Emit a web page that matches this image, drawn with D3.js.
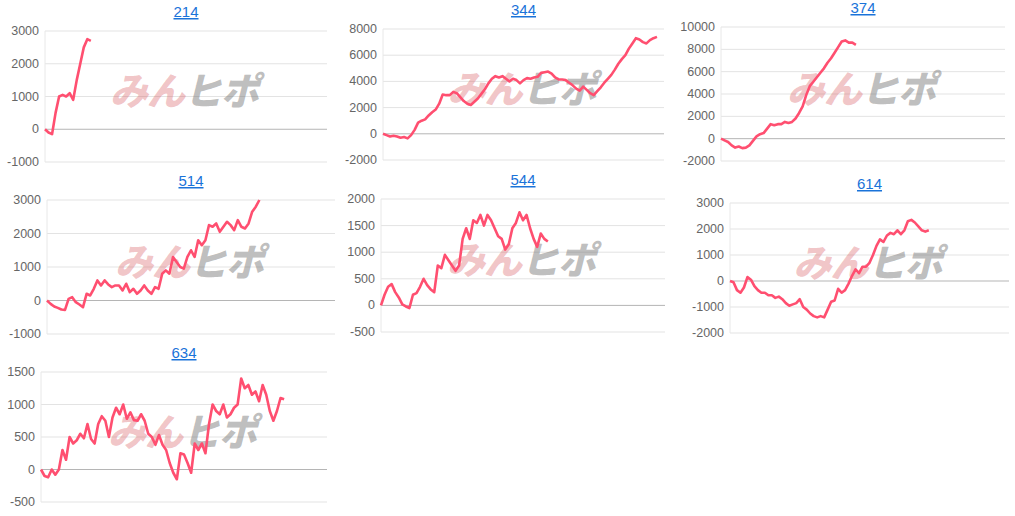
<!DOCTYPE html>
<html>
<head>
<meta charset="utf-8">
<script src="https://cdn.jsdelivr.net/npm/d3@7"></script>
<style>
  body { margin: 0; background: #fff; font-family: Arial, "Liberation Sans", sans-serif; }
  svg { display: block; }
</style>
</head>
<body>
<svg id="chart" width="1015" height="516"></svg>
<script>
// chart values
const titles = ['214', '344', '374', '514', '544', '614', '634'];

const s214 = [0, -100, -150, 500, 1000, 1050, 1000, 1100, 900, 1500, 2000, 2500, 2750, 2700];
const s344 = [0, -100, -200, -150, -200, -300, -250, -350, -100, 300, 850, 1000, 1100, 1400, 1650, 1850,
  2300, 3000, 2950, 2950, 3200, 3100, 2800, 2500, 2300, 2200, 2450, 2700, 3050, 3400, 3850, 4200, 4400,
  4300, 4400, 4200, 4000, 4200, 4100, 3850, 4100, 4250, 4200, 4300, 4350, 4650, 4700, 4750, 4600, 4300,
  4150, 4150, 4100, 3900, 3700, 3450, 3300, 3600, 3350, 3100, 2950, 3250, 3550, 3900, 4200, 4500, 4900,
  5350, 5700, 6000, 6500, 6900, 7300, 7200, 7000, 6900, 7150, 7300, 7400];
const s374 = [0, -150, -300, -600, -800, -700, -850, -800, -600, -200, 200, 400, 500, 900, 1300, 1200,
  1300, 1300, 1500, 1400, 1500, 1800, 2300, 2900, 3900, 4700, 5100, 5500, 5900, 6300, 6800, 7200, 7700,
  8200, 8700, 8800, 8600, 8600, 8400];
const s514 = [0, -100, -180, -220, -270, -280, 50, 100, -50, -120, -200, 200, 150, 350, 600, 450, 600,
  480, 400, 450, 450, 300, 500, 250, 350, 200, 300, 450, 300, 200, 400, 350, 800, 900, 800, 1300, 1150,
  1000, 950, 1300, 1500, 1300, 1800, 1650, 1800, 2250, 2200, 2300, 2050, 2200, 2350, 2250, 2100, 2400,
  2200, 2150, 2300, 2650, 2800, 3000];
const s544 = [0, 200, 350, 400, 250, 150, 20, -20, -50, 200, 230, 350, 500, 380, 300, 250, 750, 700, 950,
  850, 750, 650, 750, 1250, 1450, 1250, 1600, 1550, 1700, 1500, 1700, 1600, 1450, 1300, 1250, 1050, 1150,
  1450, 1550, 1750, 1600, 1700, 1450, 1250, 1100, 1350, 1250, 1200];
const s614 = [0, -50, -350, -450, -250, 150, 50, -200, -350, -450, -450, -550, -550, -650, -600, -700,
  -850, -950, -900, -850, -700, -1000, -1100, -1250, -1350, -1400, -1350, -1400, -1100, -800, -750, -300,
  -450, -350, -100, 200, 450, 300, 550, 550, 700, 1000, 1350, 1600, 1500, 1750, 1850, 1800, 1950, 1800,
  1950, 2300, 2350, 2250, 2100, 1950, 1900, 1950];
const s634 = [0, -100, -120, 0, -80, 0, 300, 150, 500, 400, 450, 550, 480, 700, 470, 400, 700, 820, 750,
  500, 800, 950, 850, 1000, 780, 880, 760, 750, 850, 750, 550, 500, 380, 530, 380, 300, 100, -50, -150,
  250, 230, 100, -50, 400, 300, 400, 250, 700, 1000, 900, 850, 1000, 800, 850, 950, 1000, 1400, 1250,
  1300, 1150, 1200, 1050, 1300, 1150, 900, 750, 900, 1100, 1080];

const series = [s214, s344, s374, s514, s544, s614, s634];
const yTicks = [
  [-1000, 0, 1000, 2000, 3000],
  [-2000, 0, 2000, 4000, 6000, 8000],
  [-2000, 0, 2000, 4000, 6000, 8000, 10000],
  [-1000, 0, 1000, 2000, 3000],
  [-500, 0, 500, 1000, 1500, 2000],
  [-2000, -1000, 0, 1000, 2000, 3000],
  [-500, 0, 500, 1000, 1500]
];
const xMax = 80;

// panel plot boxes (pixels)
const boxes = [
  { x0: 45, x1: 327, top: 31, bot: 162 },
  { x0: 383, x1: 664, top: 29, bot: 160 },
  { x0: 721, x1: 1005, top: 27, bot: 161 },
  { x0: 47, x1: 335, top: 200, bot: 334 },
  { x0: 381, x1: 665, top: 199, bot: 332 },
  { x0: 730, x1: 1009, top: 203, bot: 333 },
  { x0: 41, x1: 327, top: 372, bot: 502 }
];

const svg = d3.select('#chart');
const skew = Math.tan(14 * Math.PI / 180);

series.forEach((data, i) => {
  const b = boxes[i];
  const ticks = yTicks[i];
  const x = d3.scaleLinear().domain([0, xMax]).range([b.x0, b.x1]);
  const y = d3.scaleLinear().domain([ticks[0], ticks[ticks.length - 1]]).range([b.bot, b.top]);
  const g = svg.append('g');

  g.selectAll('.grid').data(ticks).join('line')
    .attr('x1', b.x0).attr('x2', b.x1)
    .attr('y1', d => y(d)).attr('y2', d => y(d))
    .attr('stroke', d => d === 0 ? '#b5b5b5' : '#e3e3e3')
    .attr('stroke-width', 1);

  g.append('line')
    .attr('x1', b.x0).attr('x2', b.x0)
    .attr('y1', b.top).attr('y2', b.bot)
    .attr('stroke', '#e8e8e8');

  g.selectAll('.tick').data(ticks).join('text')
    .attr('x', b.x0 - 6).attr('y', d => y(d) + 4)
    .attr('text-anchor', 'end')
    .attr('font-size', 12.5)
    .attr('fill', '#666')
    .text(d => d);

  // watermark
  const cx = (b.x0 + b.x1) / 2 - 2, by = (b.top + b.bot) / 2 + 9;
  const wm = g.append('text')
    .attr('x', cx).attr('y', by)
    .attr('text-anchor', 'middle')
    .attr('font-size', 38)
    .attr('font-weight', 900)
    .attr('letter-spacing', -1)
    .attr('font-family', '"Noto Sans CJK JP", sans-serif')
    .attr('transform', `skewX(-14) translate(${by * skew},0)`);
  wm.append('tspan').attr('fill', 'rgba(215,90,95,0.36)').text('みん');
  wm.append('tspan').attr('fill', 'rgba(110,110,110,0.45)').text('ヒポ');

  g.append('path')
    .datum(data)
    .attr('fill', 'none')
    .attr('stroke', '#ff4f70')
    .attr('stroke-width', 2.6)
    .attr('stroke-linejoin', 'round')
    .attr('d', d3.line().x((d, j) => x(j)).y(d => y(d)));

  g.append('text')
    .attr('x', cx + 2).attr('y', b.top - 14)
    .attr('text-anchor', 'middle')
    .attr('font-size', 15)
    .attr('fill', '#1a73d9')
    .attr('text-decoration', 'underline')
    .text(titles[i]);
});
</script>
</body>
</html>
